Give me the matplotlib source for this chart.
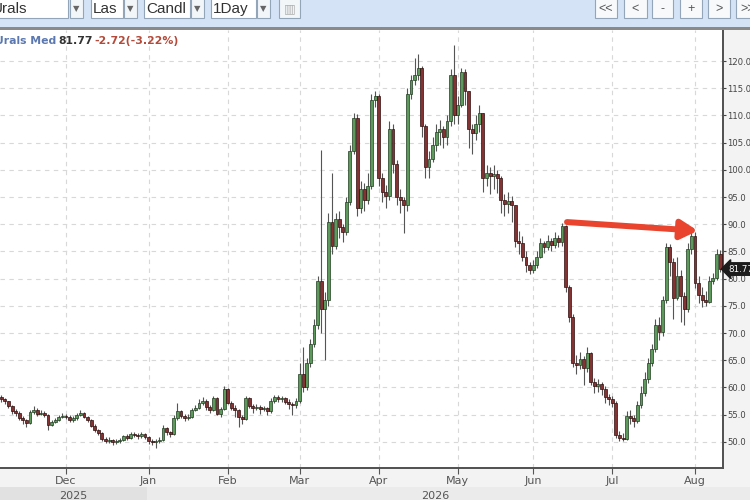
import numpy as np
import pandas as pd
import matplotlib
matplotlib.use("Agg")
import matplotlib.pyplot as plt
import matplotlib.transforms as mtransforms
from matplotlib.patches import Rectangle

W, H = 750, 500

# one bar per weekday, 5 Nov 2025 .. 12 Aug 2026 (bars are placed by trading-day index)
dates = pd.bdate_range("2025-11-05", "2026-08-12")
first_open = 58.2

close_nov = [57.9, 57.5, 56.6, 55.6, 55.3, 54.4, 54.0, 53.5, 55.5, 55.8, 55.2, 55.4, 55.0, 53.1, 53.6, 54.0, 54.5, 54.8]
high_nov = [58.6, 58.1, 57.6, 56.8, 56.0, 55.6, 54.8, 54.2, 55.9, 56.6, 56.2, 55.8, 55.6, 55.2, 54.0, 54.4, 55.0, 55.3]
low_nov = [57.4, 56.9, 56.2, 55.2, 54.8, 54.1, 53.2, 52.8, 53.3, 55.2, 54.8, 54.9, 54.6, 52.2, 52.9, 53.5, 53.9, 54.3]

close_dec = [54.6, 54.0, 54.3, 55.0, 55.4, 54.6, 54.0, 53.0, 52.2, 51.6, 50.6, 50.2, 50.4, 49.9, 50.1, 50.3, 51.0, 50.8, 51.4, 51.3, 51.0, 51.5, 50.9]
high_dec = [55.2, 54.9, 54.7, 55.4, 55.9, 55.5, 54.8, 54.2, 53.2, 52.4, 51.8, 50.9, 50.9, 50.6, 50.5, 50.7, 51.3, 51.4, 51.9, 51.8, 51.6, 51.9, 51.7]
low_dec = [54.2, 53.6, 53.7, 54.1, 54.7, 54.3, 53.6, 52.7, 51.8, 51.2, 50.2, 49.8, 49.8, 49.4, 49.6, 49.8, 50.1, 50.4, 50.6, 50.9, 50.6, 50.8, 50.5]

close_jan = [50.2, 50.0, 50.1, 50.4, 52.6, 51.8, 51.4, 54.4, 55.6, 54.8, 54.4, 54.6, 55.8, 56.2, 57.2, 57.6, 56.4, 55.9, 58.0, 55.2, 56.0, 59.8]
high_jan = [51.0, 50.5, 50.6, 50.9, 53.1, 52.8, 52.0, 54.9, 57.2, 55.8, 55.2, 55.1, 56.2, 56.8, 57.8, 58.2, 57.9, 56.8, 58.4, 58.2, 56.5, 60.2]
low_jan = [49.7, 49.5, 48.8, 49.8, 50.2, 51.3, 50.9, 51.3, 54.1, 54.3, 53.8, 54.0, 54.4, 55.6, 56.0, 56.8, 55.9, 55.3, 55.6, 54.9, 54.6, 55.8]

close_feb = [57.2, 56.3, 55.8, 54.6, 54.2, 58.0, 56.6, 56.2, 56.4, 56.0, 56.2, 55.6, 57.6, 58.2, 57.9, 58.0, 57.4, 57.0, 56.8, 57.6]
high_feb = [59.9, 57.6, 56.8, 56.0, 55.0, 58.4, 58.3, 57.0, 56.9, 56.7, 56.6, 56.4, 58.0, 58.7, 58.6, 58.5, 58.2, 57.8, 57.3, 58.1]
low_feb = [56.9, 55.9, 54.6, 52.8, 53.2, 54.0, 56.2, 55.4, 55.8, 55.2, 55.6, 55.0, 55.4, 57.2, 57.4, 57.4, 56.9, 56.1, 55.0, 56.3]

close_mar = [62.5, 60.0, 64.5, 68.0, 71.5, 79.5, 74.5, 76.0, 90.5, 86.0, 91.0, 89.5, 88.5, 94.0, 103.5, 109.5, 93.0, 96.5, 94.5, 97.0, 112.8, 113.5]
high_mar = [64.5, 67.5, 65.5, 69.0, 72.5, 80.5, 103.6, 77.5, 92.0, 99.4, 92.0, 92.5, 90.0, 95.0, 104.5, 110.5, 110.2, 98.0, 97.5, 99.5, 114.0, 114.5]
low_mar = [57.2, 59.2, 59.6, 63.8, 67.5, 70.8, 70.0, 65.0, 75.0, 84.5, 85.5, 87.5, 86.8, 88.0, 93.5, 103.0, 91.5, 92.0, 92.5, 93.8, 96.5, 111.5]

close_apr = [98.5, 96.0, 95.2, 107.5, 101.0, 95.0, 94.5, 93.5, 114.0, 116.5, 117.5, 118.8, 108.0, 100.5, 102.0, 104.5, 107.0, 107.5, 106.0, 109.0, 117.5, 110.0]
high_apr = [114.0, 99.5, 97.2, 109.0, 108.5, 101.8, 96.5, 95.0, 115.0, 117.5, 120.5, 121.2, 119.0, 108.5, 103.5, 106.0, 108.5, 109.2, 108.0, 110.0, 118.5, 123.0]
low_apr = [97.0, 94.0, 93.0, 94.5, 99.5, 93.5, 92.0, 88.4, 92.5, 113.0, 115.5, 116.5, 106.0, 98.5, 98.5, 101.5, 103.5, 104.5, 104.0, 104.5, 108.0, 108.5]

close_may = [112.0, 118.0, 114.5, 107.5, 106.8, 108.5, 110.5, 98.5, 99.5, 98.8, 99.2, 98.5, 94.5, 93.8, 94.3, 93.5, 87.0, 86.5, 84.0, 82.5, 81.6]
high_may = [113.5, 118.8, 118.5, 114.0, 108.5, 110.0, 112.0, 110.5, 100.8, 100.5, 100.8, 100.0, 98.8, 95.5, 96.0, 95.2, 93.5, 88.8, 87.8, 85.0, 83.0]
low_may = [108.5, 111.5, 112.0, 104.0, 103.0, 105.5, 107.0, 96.0, 97.0, 95.5, 96.5, 95.8, 92.0, 91.5, 92.0, 90.5, 85.8, 84.5, 83.2, 81.3, 80.8]

close_jun = [82.5, 84.0, 86.5, 85.8, 87.0, 86.2, 87.5, 86.8, 89.6, 78.5, 73.0, 64.5, 64.2, 65.2, 63.5, 66.3, 61.0, 60.2, 60.6, 59.8, 58.3, 57.8]
high_jun = [83.5, 85.0, 87.5, 87.0, 88.0, 87.5, 88.5, 88.0, 90.2, 89.8, 78.8, 73.5, 66.0, 66.5, 65.8, 67.5, 66.6, 61.8, 61.5, 61.0, 60.2, 58.8]
low_jun = [81.0, 82.0, 83.8, 84.8, 85.2, 85.0, 85.6, 85.8, 86.0, 77.5, 72.0, 63.8, 62.5, 63.4, 60.5, 62.8, 60.4, 59.0, 59.2, 58.6, 57.2, 56.8]

close_jul = [57.2, 51.2, 50.8, 50.6, 54.8, 54.3, 53.8, 56.8, 59.0, 61.5, 64.5, 67.0, 71.5, 70.2, 76.0, 85.8, 83.0, 76.5, 80.5, 76.8, 74.5, 85.5, 87.8]
high_jul = [58.4, 57.6, 52.0, 51.6, 55.6, 55.8, 55.0, 57.5, 60.2, 62.8, 65.5, 68.0, 72.5, 73.0, 76.8, 86.5, 86.3, 83.8, 84.0, 81.5, 77.5, 86.5, 88.5]
low_jul = [56.5, 50.8, 50.2, 50.2, 50.4, 53.2, 52.8, 53.4, 56.2, 58.5, 60.8, 64.0, 66.5, 68.8, 69.5, 75.5, 80.5, 72.5, 76.0, 72.0, 71.5, 73.8, 84.5]

close_aug = [79.2, 77.0, 76.0, 75.8, 79.5, 80.2, 84.6, 81.77]
high_aug = [88.5, 80.5, 78.5, 77.8, 80.5, 81.0, 85.5, 85.2]
low_aug = [78.2, 75.5, 74.8, 74.9, 75.5, 79.0, 79.8, 81.2]

last_price = 81.77
change_text = "-2.72(-3.22%)"
y_ticks = [50, 55, 60, 65, 70, 75, 80, 85, 90, 95, 100, 105, 110, 115, 120]

# hand-drawn red arrow, in (bar index, price)
arrow_start = (157.4, 90.4)
arrow_end = (193.8, 88.8)

closes = np.array(close_nov + close_dec + close_jan + close_feb + close_mar +
                  close_apr + close_may + close_jun + close_jul + close_aug)
highs = np.array(high_nov + high_dec + high_jan + high_feb + high_mar +
                 high_apr + high_may + high_jun + high_jul + high_aug)
lows = np.array(low_nov + low_dec + low_jan + low_feb + low_mar +
                low_apr + low_may + low_jun + low_jul + low_aug)
opens = np.concatenate([[first_open], closes[:-1]])
highs = np.maximum(highs, np.maximum(opens, closes))
lows = np.minimum(lows, np.minimum(opens, closes))

dates = dates[:len(closes)]
x = np.arange(len(closes))
months = dates.month
month_idx = [i for i in range(1, len(dates)) if months[i] != months[i - 1]]
month_lbl = [dates[i].strftime("%b") for i in month_idx]

fig = plt.figure(figsize=(7.5, 5), dpi=100, facecolor="#f3f3f3")
ax = fig.add_axes([0, 32 / H, 723 / W, 438 / H])
ax.set_facecolor("white")

# candles
up = closes >= opens
body_lo = np.minimum(opens, closes)
body_h = np.maximum(np.abs(closes - opens), 0.15)
ax.vlines(x, lows, highs, color="#555555", lw=0.8, zorder=2)
ax.bar(x[up], body_h[up], bottom=body_lo[up], width=0.8, color="#5c9a5c",
       edgecolor="#203b20", lw=0.5, zorder=3)
ax.bar(x[~up], body_h[~up], bottom=body_lo[~up], width=0.8, color="#843232",
       edgecolor="#2e0f0f", lw=0.5, zorder=3)

ax.annotate("", xy=arrow_end, xytext=arrow_start,
            arrowprops=dict(arrowstyle="-|>,head_length=0.5,head_width=0.28",
                            mutation_scale=20, lw=4.3, color="#e8442e",
                            shrinkA=0, shrinkB=0), zorder=5)

ax.set_xlim(-0.36, 200.8)
ax.set_ylim(45.2, 125.7)

ax.set_xticks(month_idx)
ax.set_xticklabels(month_lbl)
ax.yaxis.tick_right()
ax.set_yticks(y_ticks)
ax.set_yticklabels([f"{v:.1f}" for v in y_ticks])
ax.tick_params(axis="y", length=2.5, pad=0.8, labelsize=6.1, colors="#444444", width=0.8)
ax.tick_params(axis="x", length=4, pad=2, labelsize=8, colors="#555555", width=0.8)
ax.grid(True, color="#d8d8d8", ls=(0, (4, 4)), lw=0.8)
ax.set_axisbelow(True)
for s in ["left", "top"]:
    ax.spines[s].set_visible(False)
for s in ["right", "bottom"]:
    ax.spines[s].set_color("#505050")
    ax.spines[s].set_linewidth(1.4)

# last price tag
tr = mtransforms.blended_transform_factory(ax.transAxes, ax.transData)
ax.text(1.0 + 5 / 723, last_price, f"{last_price:.2f}", transform=tr, clip_on=False,
        fontsize=6.3, color="white", va="center", ha="left", zorder=10,
        bbox=dict(boxstyle="larrow,pad=0.2", fc="#1c1c1c", ec="#1c1c1c"))


def box(x0, y0, x1, y1, fc, ec="none", z=2, lw=0.8):
    fig.add_artist(Rectangle((x0 / W, 1 - y1 / H), (x1 - x0) / W, (y1 - y0) / H,
                             transform=fig.transFigure, fc=fc, ec=ec, lw=lw, zorder=z))


def ftext(px, py, s, **kw):
    fig.text(px / W, 1 - py / H, s, **kw)


# toolbar
box(0, 0, 750, 27, "#d4e4f6", z=1)
box(0, 27, 750, 30, "#8a8a8a", z=2)
fields = [("Urals", -10, 68, 70, 83), ("Las", 91, 123, 124, 137),
          ("Candl", 144, 190, 191, 204), ("1Day", 211, 256, 257, 270)]
for label, a0, a1, b0, b1 in fields:
    box(a0, -2, a1, 18, "white", "#93a5b8", z=2)
    ftext(a0 + 2, 9, label, fontsize=11, family="Liberation Sans", color="#333333",
          va="center", ha="left", zorder=4)
    box(b0, -2, b1, 18, "#f3f6f9", "#93a5b8", z=2)
    ftext((b0 + b1) / 2, 9, "▼", fontsize=6, color="#666666", va="center", ha="center", zorder=4)
box(279, -2, 300, 18, "#f3f6f9", "#93a5b8", z=2)
ftext(289.5, 9, "▥", fontsize=9, color="#b0b0b0", va="center", ha="center", zorder=4)
for label, a0, a1 in [("<<", 595, 617), ("<", 624, 647), ("-", 652, 673),
                      ("+", 680, 702), (">", 708, 730), (">>", 736, 760)]:
    box(a0, -2, a1, 18, "#f7f9fb", "#93a5b8", z=2)
    ftext((a0 + a1) / 2, 9, label, fontsize=9, family="Liberation Sans", color="#555555",
          va="center", ha="center", zorder=4)

# header inside the chart
ftext(-5, 41, "Urals Med", fontsize=7.8, weight="bold", color="#5b78b0", va="center", zorder=6)
ftext(58, 41, f"{last_price:.2f}", fontsize=7.8, weight="bold", color="#333333", va="center", zorder=6)
ftext(94, 41, change_text, fontsize=7.8, weight="bold", color="#b44a3a", va="center", zorder=6)

# year band below the months
box(0, 487, 750, 500, "#ebebeb", z=-1)
box(0, 487, 147, 500, "#e1e1e1", z=-1)
ftext(73, 496, "2025", fontsize=8, color="#555555", ha="center", va="center", zorder=4)
ftext(435, 496, "2026", fontsize=8, color="#555555", ha="center", va="center", zorder=4)

fig.savefig("out.png", dpi=100, facecolor=fig.get_facecolor())
